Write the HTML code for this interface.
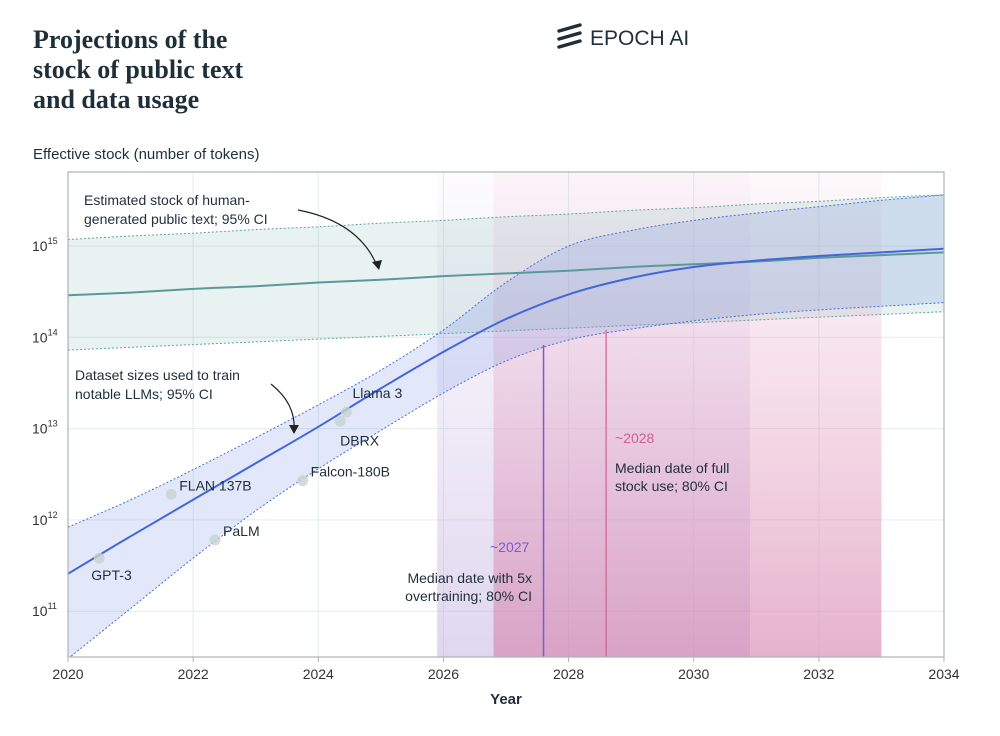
<!DOCTYPE html>
<html><head><meta charset="utf-8">
<style>
body{margin:0;background:#fff;width:1000px;height:731px;overflow:hidden;font-family:"Liberation Sans",sans-serif;}
svg text{font-family:"Liberation Sans",sans-serif;}
</style></head>
<body>
<svg id="chart" width="1000" height="731" viewBox="0 0 1000 731">
<defs>
<linearGradient id="gPurple" x1="0" y1="0" x2="0" y2="1">
<stop offset="0" stop-color="#c9b8e6" stop-opacity="0.05"/><stop offset="1" stop-color="#b9a6dc" stop-opacity="0.45"/></linearGradient>
<linearGradient id="gPink" x1="0" y1="0" x2="0" y2="1">
<stop offset="0" stop-color="#e9a6c6" stop-opacity="0.08"/><stop offset="1" stop-color="#d57fab" stop-opacity="0.6"/></linearGradient>
</defs>
<g font-weight="bold" font-size="26" fill="#1f2f3a">
<text x="33" y="48" style="font-family:'Liberation Serif',serif">Projections of the</text>
<text x="33" y="78" style="font-family:'Liberation Serif',serif">stock of public text</text>
<text x="33" y="108" style="font-family:'Liberation Serif',serif">and data usage</text>
</g>
<g>
<path d="M559 31 L580 25 M559 39 L580 33 M559 47 L580 41" stroke="#1f2f3a" stroke-width="3.5" stroke-linecap="round"/>
<text x="590" y="45" font-size="21" fill="#1f2f3a">EPOCH AI</text>
</g>
<text x="33" y="159" font-size="15" fill="#1f2f3a">Effective stock (number of tokens)</text>
<g id="plot"></g>
</svg>
<script>
const years=[2020,2021,2022,2023,2024,2025,2026,2027,2028,2029,2030,2031,2032,2033,2034];
const stockMed=[14.46,14.49,14.53,14.56,14.6,14.63,14.67,14.7,14.73,14.77,14.8,14.83,14.87,14.9,14.93];
const stockHi=[15.07,15.11,15.14,15.18,15.21,15.25,15.28,15.32,15.35,15.39,15.42,15.46,15.49,15.53,15.56];
const stockLo=[13.86,13.89,13.92,13.95,13.98,14.01,14.04,14.07,14.1,14.13,14.16,14.19,14.22,14.25,14.28];
const dataMed=[11.41,11.82,12.22,12.62,13.02,13.44,13.84,14.2,14.47,14.65,14.77,14.84,14.89,14.93,14.97];
const dataHi=[11.92,12.22,12.55,12.9,13.26,13.64,14.08,14.6,15.0,15.17,15.28,15.36,15.43,15.5,15.56];
const dataLo=[10.48,11.03,11.58,12.1,12.56,12.98,13.39,13.74,13.97,14.09,14.18,14.25,14.3,14.34,14.38];
const modelNames=["GPT-3","FLAN 137B","PaLM","Falcon-180B","DBRX","Llama 3"];
const modelYears=[2020.5,2021.65,2022.35,2023.75,2024.35,2024.45];
const modelLogTokens=[11.58,12.28,11.78,12.43,13.08,13.18];
const xTicks=[2020,2022,2024,2026,2028,2030,2032,2034];
const yTicks=[11,12,13,14,15];
const overtrainCI=[2025.9,2030.9], overtrainMedian=2027.6;
const fullUseCI=[2026.8,2033.0], fullUseMedian=2028.6;

const L=68,R=944,T=172,B=657;
const X=v=>L+(v-2020)/(2034-2020)*(R-L);
const Y=v=>246+(15-v)*91.3;
const NS="http://www.w3.org/2000/svg";
const g=document.getElementById('plot');
function mk(tag,attrs,parent){const e=document.createElementNS(NS,tag);for(const k in attrs)e.setAttribute(k,attrs[k]);(parent||g).appendChild(e);return e;}
const defs=document.querySelector('defs');
const cp=mk('clipPath',{id:'clip'},defs);mk('rect',{x:L,y:T,width:R-L,height:B-T},cp);
yTicks.forEach(t=>{const l=mk('line',{x1:L,x2:R,y1:Y(t),y2:Y(t),stroke:'#e3ecec','stroke-width':1});

});
xTicks.forEach(t=>{const l=mk('line',{x1:X(t),x2:X(t),y1:T,y2:B,stroke:'#e3ecec','stroke-width':1});

});
let r1=mk('rect',{x:X(overtrainCI[0]),y:T,width:X(overtrainCI[1])-X(overtrainCI[0]),height:B-T,fill:'url(#gPurple)'});


let r2=mk('rect',{x:X(fullUseCI[0]),y:T,width:X(fullUseCI[1])-X(fullUseCI[0]),height:B-T,fill:'url(#gPink)'});


const cg=mk('g',{'clip-path':'url(#clip)'});
function smooth(xs,ys){const p=xs.map((x,i)=>[X(x),Y(ys[i])]);let d='M'+p[0][0].toFixed(1)+' '+p[0][1].toFixed(1);
for(let i=0;i<p.length-1;i++){const p0=p[Math.max(0,i-1)],p1=p[i],p2=p[i+1],p3=p[Math.min(p.length-1,i+2)];
const c1x=p1[0]+(p2[0]-p0[0])/6,c1y=p1[1]+(p2[1]-p0[1])/6,c2x=p2[0]-(p3[0]-p1[0])/6,c2y=p2[1]-(p3[1]-p1[1])/6;
d+=` C${c1x.toFixed(1)} ${c1y.toFixed(1)} ${c2x.toFixed(1)} ${c2y.toFixed(1)} ${p2[0].toFixed(1)} ${p2[1].toFixed(1)}`;}return d;}
function band(hi,lo,fill,name){const rx=years.slice().reverse(),rl=lo.slice().reverse();
const d=smooth(years,hi)+' L'+smooth(rx,rl).slice(1)+' Z';
const e=mk('path',{d:d,fill:fill,stroke:'none'},cg);

}
band(stockHi,stockLo,'rgba(120,185,175,0.18)','stock-ci-band');
band(dataHi,dataLo,'rgba(110,140,225,0.2)','dataset-ci-band');
function path(ys,stroke,w,dash,name){const e=mk('path',{d:smooth(years,ys),fill:'none',stroke:stroke,'stroke-width':w},cg);if(dash)e.setAttribute('stroke-dasharray',dash);

}
path(stockHi,'#5ea59d',1,'2 2','stock-upper-ci');
path(stockLo,'#5ea59d',1,'2 2','stock-lower-ci');
path(dataHi,'#4a6fe0',1,'2 2','dataset-upper-ci');
path(dataLo,'#4a6fe0',1,'2 2','dataset-lower-ci');
path(stockMed,'#5a9a96',2,null,'stock-median-line');
path(dataMed,'#4466dd',2,null,'dataset-median-line');
let m1=mk('line',{x1:X(overtrainMedian),x2:X(overtrainMedian),y1:345,y2:B,stroke:'#7a5bd6','stroke-width':1.5});


let m2=mk('line',{x1:X(fullUseMedian),x2:X(fullUseMedian),y1:330,y2:B,stroke:'#d0608f','stroke-width':1.2});


let fr=mk('rect',{x:L,y:T,width:R-L,height:B-T,fill:'none',stroke:'#a9b4b8','stroke-width':1.2});


const lblOff=[[-8,22],[8,-4],[8,-4],[8,-4],[0,24],[6,-14]];
modelNames.forEach((n,i)=>{const cx=X(modelYears[i]),cy=Y(modelLogTokens[i]);
const c=mk('circle',{cx:cx,cy:cy,r:5.5,fill:'#c8d2d2','fill-opacity':0.8});


const t=mk('text',{x:cx+lblOff[i][0],y:cy+lblOff[i][1],'font-size':14,fill:'#1f2f3a'});t.textContent=n;

});
xTicks.forEach(t=>{mk('line',{x1:X(t),x2:X(t),y1:B,y2:B+5,stroke:'#a9b4b8'});
const e=mk('text',{x:X(t),y:B+22,'font-size':14,fill:'#333','text-anchor':'middle'});e.textContent=t;

});
yTicks.forEach(t=>{const e=mk('text',{x:32,y:Y(t)+5,'font-size':14,fill:'#333'});e.innerHTML='10<tspan dy="-7" font-size="9">'+t+'</tspan>';

});
</script>
<svg width="1000" height="731" style="position:absolute;left:0;top:0">
<text x="506" y="704" font-size="15" font-weight="bold" fill="#1f2f3a" text-anchor="middle">Year</text>
<g font-size="14" fill="#1f2f3a">
<text x="84" y="205">Estimated stock of human-</text><text x="84" y="224">generated public text; 95% CI</text></g>
<path d="M298 210 Q360 222 378 268" fill="none" stroke="#222" stroke-width="1.2"/>
<path d="M372 262 L379 270 L382 260 Z" fill="#222"/>
<g font-size="14" fill="#1f2f3a">
<text x="75" y="380">Dataset sizes used to train</text><text x="75" y="399">notable LLMs; 95% CI</text></g>
<path d="M271 384 Q296 404 294 430" fill="none" stroke="#222" stroke-width="1.2"/>
<path d="M289 425 L294 434 L299 425 Z" fill="#222"/>
<text x="490" y="552" font-size="14" fill="#7a5bd6">~2027</text>
<g font-size="14" fill="#1f2f3a" text-anchor="end">
<text x="532" y="583">Median date with 5x</text><text x="532" y="601">overtraining; 80% CI</text></g>
<text x="615" y="443" font-size="14" fill="#d0608f">~2028</text>
<g font-size="14" fill="#1f2f3a">
<text x="615" y="473">Median date of full</text><text x="615" y="491">stock use; 80% CI</text></g>
</svg>
</body></html>
